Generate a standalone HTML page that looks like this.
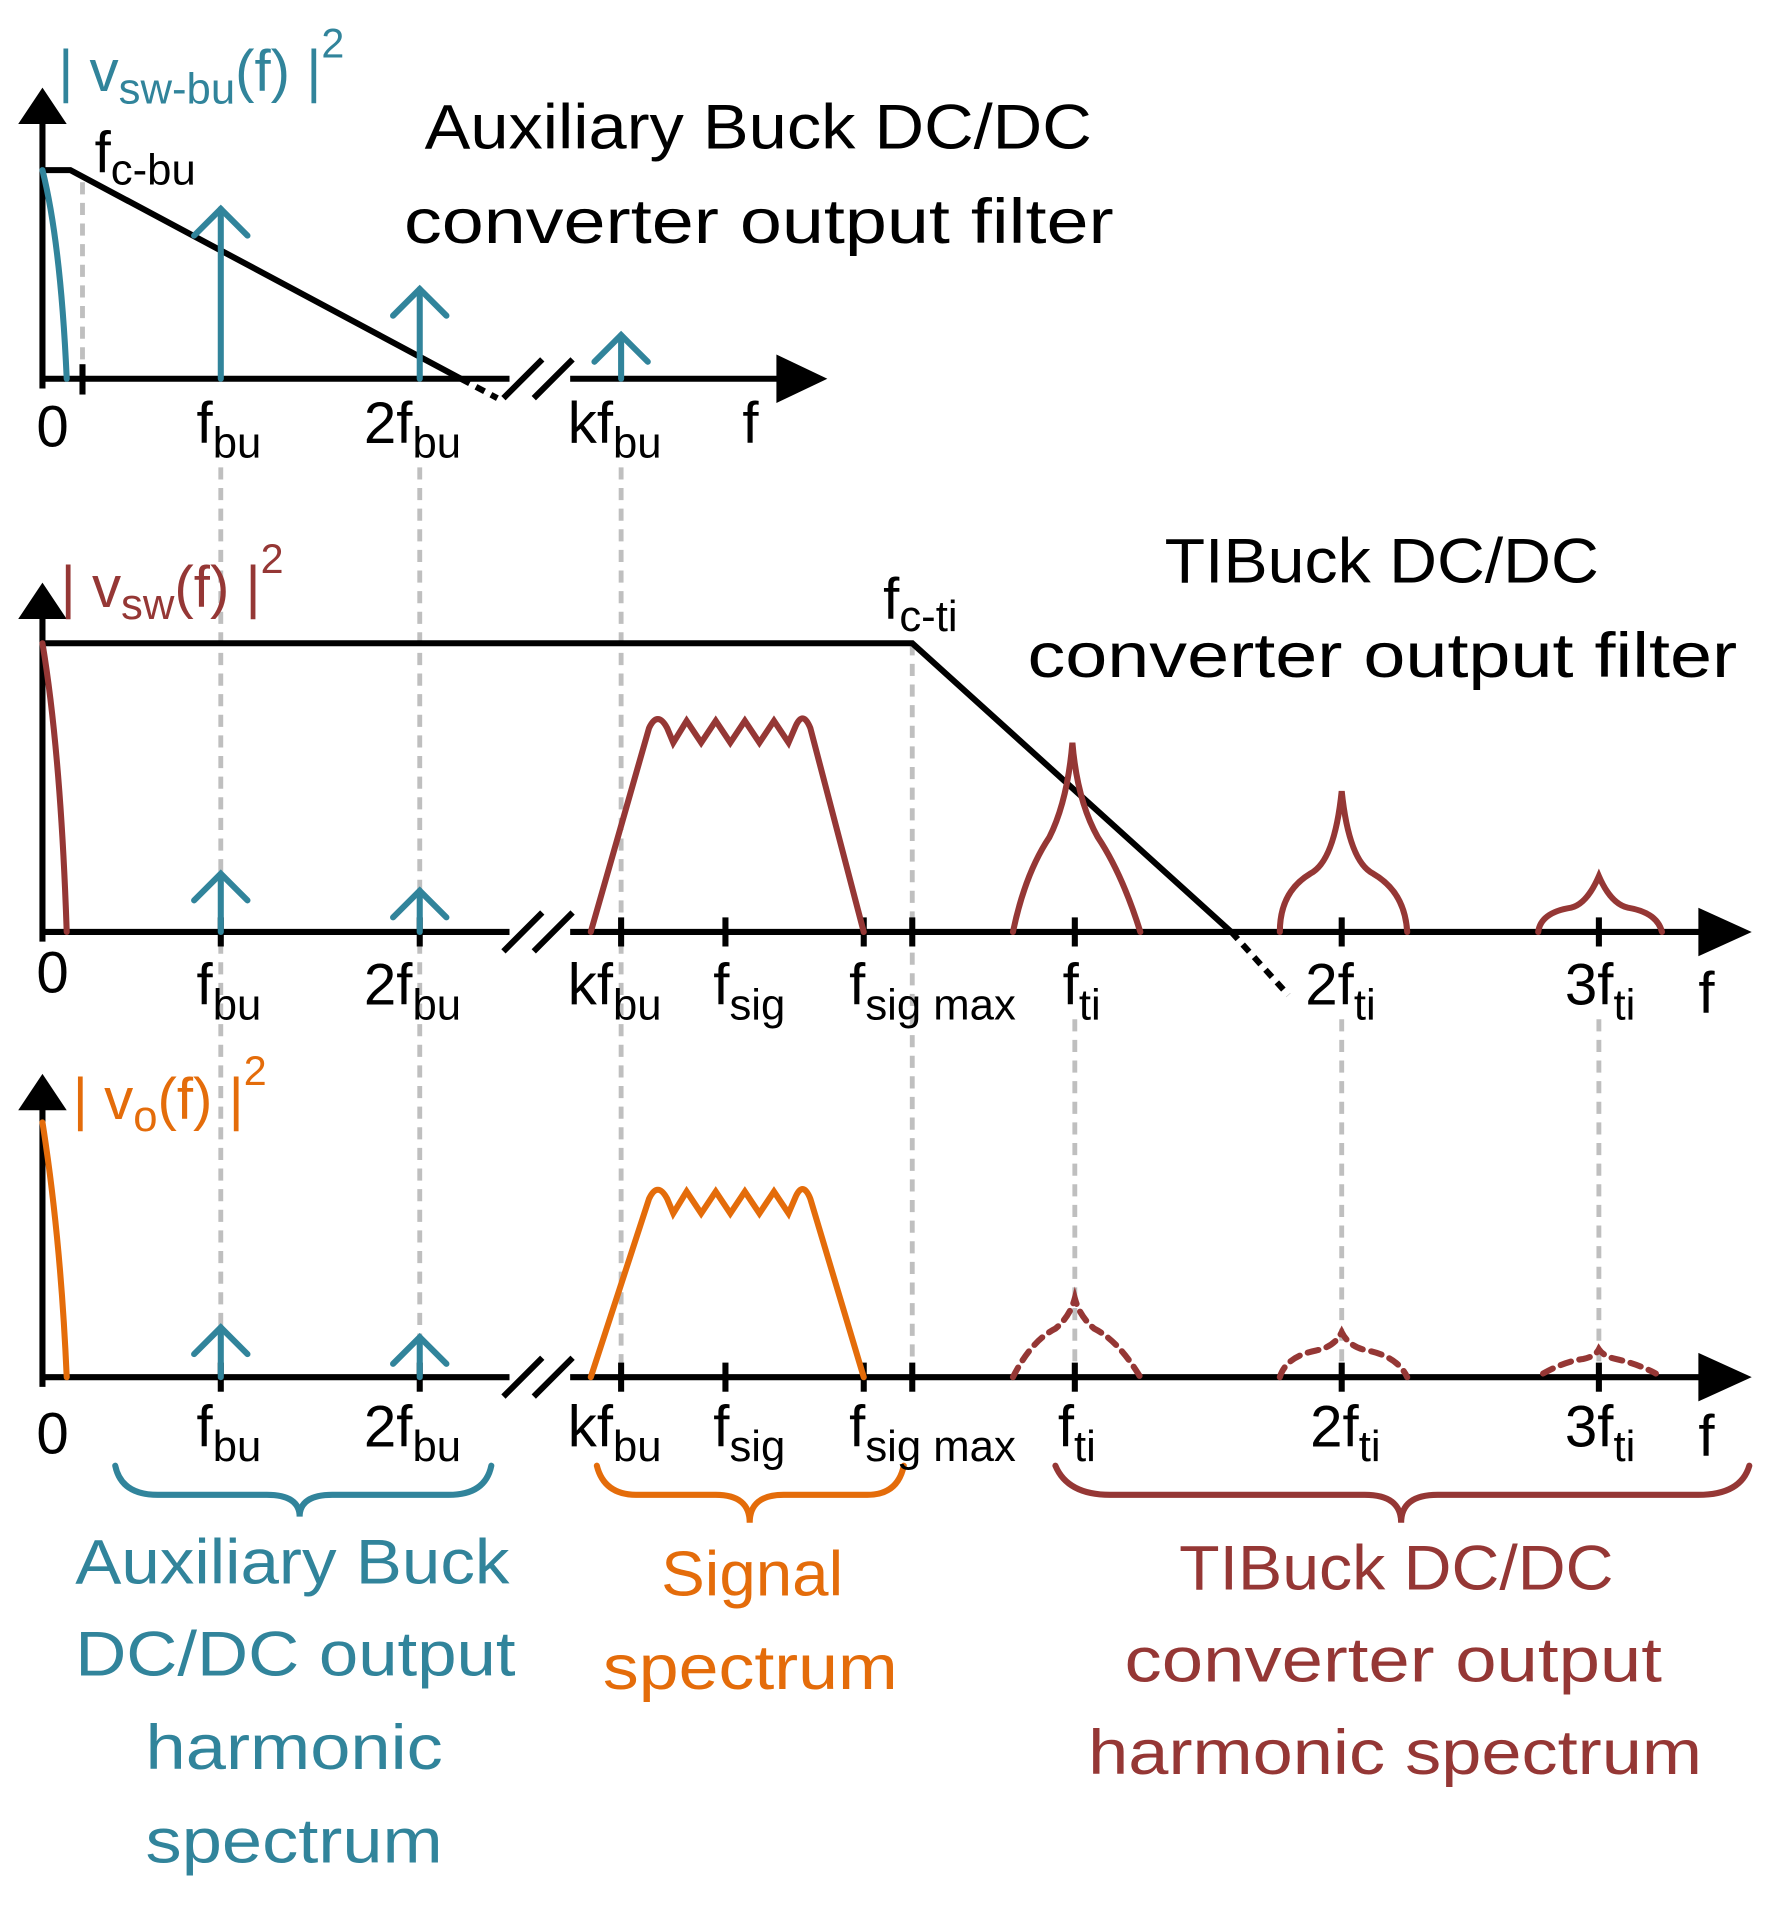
<!DOCTYPE html>
<html><head><meta charset="utf-8"><style>
html,body{margin:0;padding:0;background:#fff}
svg{display:block}
text{font-family:"Liberation Sans",sans-serif}
</style></head><body>
<svg width="1776" height="1910" viewBox="0 0 1464 1574" xmlns="http://www.w3.org/2000/svg">
<g stroke="#bfbfbf" stroke-width="4" stroke-dasharray="10,7" fill="none">
<line x1="68" y1="150" x2="68" y2="312"/>
<line x1="182" y1="385" x2="182" y2="1135"/>
<line x1="346" y1="385" x2="346" y2="1135"/>
<line x1="512" y1="385" x2="512" y2="1135"/>
<line x1="752" y1="530" x2="752" y2="1135"/>
<line x1="886" y1="840" x2="886" y2="1135"/>
<line x1="1106" y1="840" x2="1106" y2="1135"/>
<line x1="1318" y1="840" x2="1318" y2="1135"/>
</g>
<g stroke="#000" stroke-width="5" fill="none">
<line x1="35" y1="320" x2="35" y2="95"/>
<line x1="35" y1="312" x2="420" y2="312"/><line x1="470" y1="312" x2="650" y2="312"/>
<line x1="35" y1="776" x2="35" y2="505"/>
<line x1="35" y1="768" x2="420" y2="768"/><line x1="470" y1="768" x2="1410" y2="768"/>
<line x1="35" y1="1143" x2="35" y2="910"/>
<line x1="35" y1="1135" x2="420" y2="1135"/><line x1="470" y1="1135" x2="1410" y2="1135"/>
<path d="M415 328 L447 296 M440 328 L472 296"/>
<path d="M415 784 L447 752 M440 784 L472 752"/>
<path d="M415 1151 L447 1119 M440 1151 L472 1119"/>
<line x1="68" y1="300" x2="68" y2="325"/>
<g>
<line x1="512" y1="756" x2="512" y2="780"/><line x1="598" y1="756" x2="598" y2="780"/><line x1="712" y1="756" x2="712" y2="780"/><line x1="752" y1="756" x2="752" y2="780"/><line x1="886" y1="756" x2="886" y2="780"/><line x1="1106" y1="756" x2="1106" y2="780"/><line x1="1318" y1="756" x2="1318" y2="780"/><line x1="182" y1="756" x2="182" y2="780"/><line x1="346" y1="756" x2="346" y2="780"/>
<line x1="512" y1="1123" x2="512" y2="1147"/><line x1="598" y1="1123" x2="598" y2="1147"/><line x1="712" y1="1123" x2="712" y2="1147"/><line x1="752" y1="1123" x2="752" y2="1147"/><line x1="886" y1="1123" x2="886" y2="1147"/><line x1="1106" y1="1123" x2="1106" y2="1147"/><line x1="1318" y1="1123" x2="1318" y2="1147"/><line x1="182" y1="1123" x2="182" y2="1147"/><line x1="346" y1="1123" x2="346" y2="1147"/>
</g>
</g>
<g fill="#000">
<polygon points="35,72 15,102 55,102"/><polygon points="35,480 15,510 55,510"/><polygon points="35,885 15,915 55,915"/>
<polygon points="682,312 640,292 640,332"/><polygon points="1444,768 1400,748 1400,788"/><polygon points="1444,1135 1400,1115 1400,1155"/>
</g>
<g stroke="#000" stroke-width="5" fill="none">
<path d="M35 140 L58 140 L380 312"/>
<path d="M380 312 L410 328" stroke-dasharray="8,6"/>
<path d="M35 530 L752 530 L1015 768"/>
<path d="M1015 768 L1062 820" stroke-dasharray="8,6"/>
</g>
<g stroke="#31849b" stroke-width="5" fill="none" stroke-linecap="round">
<path d="M35 140 Q50 200 55 312"/>
<line x1="182" y1="312" x2="182" y2="172"/><path d="M160 194 L182 172 L204 194"/>
<line x1="346" y1="312" x2="346" y2="238"/><path d="M324 260 L346 238 L368 260"/>
<line x1="512" y1="312" x2="512" y2="276"/><path d="M490 298 L512 276 L534 298"/>
<line x1="182" y1="768" x2="182" y2="720"/><path d="M160 742 L182 720 L204 742"/>
<line x1="346" y1="768" x2="346" y2="734"/><path d="M324 756 L346 734 L368 756"/>
<line x1="182" y1="1135" x2="182" y2="1094"/><path d="M160 1116 L182 1094 L204 1116"/>
<line x1="346" y1="1135" x2="346" y2="1102"/><path d="M324 1124 L346 1102 L368 1124"/>
<path d="M95 1208 Q100 1232 130 1232 L220 1232 Q247 1232 247 1250 Q247 1232 274 1232 L370 1232 Q400 1232 405 1208"/>
</g>
<g stroke="#953735" stroke-width="5" fill="none" stroke-linecap="round">
<path d="M35 530 Q50 620 55 768"/>
<path d="M487 768 L535 600 Q542 585 550 600 L555 612 L566 594 L578 612 L590 594 L602 612 L614 594 L626 612 L638 594 L650 612 L656 598 Q662 585 668 600 L712 768"/>
<path d="M835 768 Q845 720 865 690 Q880 660 884 612 Q888 660 905 690 Q925 720 940 768"/>
<path d="M1055 768 Q1055 735 1080 720 Q1100 710 1106 652 Q1112 710 1132 720 Q1158 735 1160 768"/>
<path d="M1268 768 Q1270 752 1295 748 Q1308 745 1318 722 Q1328 745 1342 748 Q1366 752 1370 768"/>
<g stroke-dasharray="9,7">
<path d="M835 1135 Q850 1105 870 1095 Q882 1085 886 1070 Q890 1085 902 1095 Q922 1105 940 1135"/>
<path d="M1055 1135 Q1060 1118 1085 1113 Q1100 1110 1106 1098 Q1112 1110 1127 1113 Q1152 1118 1160 1135"/>
<path d="M1272 1132 Q1290 1122 1305 1120 Q1315 1118 1318 1112 Q1322 1118 1332 1120 Q1350 1124 1365 1132"/>
</g>
<path d="M870 1208 Q880 1232 915 1232 L1125 1232 Q1155 1232 1155 1255 Q1155 1232 1185 1232 L1400 1232 Q1435 1232 1442 1208"/>
</g>
<g stroke="#e46c0a" stroke-width="5" fill="none" stroke-linecap="round">
<path d="M35 925 Q50 1020 55 1135"/>
<path d="M487 1135 L535 988 Q542 973 550 988 L555 1000 L566 982 L578 1000 L590 982 L602 1000 L614 982 L626 1000 L638 982 L650 1000 L656 986 Q662 973 668 988 L712 1135"/>
<path d="M492 1208 Q498 1232 525 1232 L590 1232 Q618 1232 618 1255 Q618 1232 646 1232 L715 1232 Q740 1232 745 1208"/>
</g>
<g font-size="52" fill="#000" lengthAdjust="spacingAndGlyphs">
<text x="350" y="122" textLength="550" lengthAdjust="spacingAndGlyphs">Auxiliary Buck DC/DC</text>
<text x="333" y="200" textLength="585" lengthAdjust="spacingAndGlyphs">converter output filter</text>
<text x="960" y="480" textLength="358" lengthAdjust="spacingAndGlyphs">TIBuck DC/DC</text>
<text x="847" y="558" textLength="585" lengthAdjust="spacingAndGlyphs">converter output filter</text>
</g>
<g font-size="48" fill="#000">
<text x="78" y="142">f<tspan font-size="36" dy="10">c-bu</tspan></text>
<text x="728" y="510">f<tspan font-size="36" dy="10">c-ti</tspan></text>
<text x="30" y="368">0</text>
<text x="162" y="365">f<tspan font-size="36" dy="12">bu</tspan></text>
<text x="300" y="365">2f<tspan font-size="36" dy="12">bu</tspan></text>
<text x="468" y="365">kf<tspan font-size="36" dy="12">bu</tspan></text>
<text x="612" y="365">f</text>
<text x="30" y="818">0</text>
<text x="162" y="828">f<tspan font-size="36" dy="12">bu</tspan></text>
<text x="300" y="828">2f<tspan font-size="36" dy="12">bu</tspan></text>
<text x="468" y="828">kf<tspan font-size="36" dy="12">bu</tspan></text>
<text x="588" y="828">f<tspan font-size="36" dy="12">sig</tspan></text>
<text x="700" y="828">f<tspan font-size="36" dy="12">sig max</tspan></text>
<text x="876" y="828">f<tspan font-size="36" dy="12">ti</tspan></text>
<text x="1076" y="828">2f<tspan font-size="36" dy="12">ti</tspan></text>
<text x="1290" y="828">3f<tspan font-size="36" dy="12">ti</tspan></text>
<text x="1400" y="835">f</text>
<text x="30" y="1198">0</text>
<text x="162" y="1192">f<tspan font-size="36" dy="12">bu</tspan></text>
<text x="300" y="1192">2f<tspan font-size="36" dy="12">bu</tspan></text>
<text x="468" y="1192">kf<tspan font-size="36" dy="12">bu</tspan></text>
<text x="588" y="1192">f<tspan font-size="36" dy="12">sig</tspan></text>
<text x="700" y="1192">f<tspan font-size="36" dy="12">sig max</tspan></text>
<text x="872" y="1192">f<tspan font-size="36" dy="12">ti</tspan></text>
<text x="1080" y="1192">2f<tspan font-size="36" dy="12">ti</tspan></text>
<text x="1290" y="1192">3f<tspan font-size="36" dy="12">ti</tspan></text>
<text x="1400" y="1200">f</text>
</g>
<text x="48" y="75" font-size="48" fill="#31849b">| v<tspan font-size="36" dy="10">sw-bu</tspan><tspan dy="-10">(f) |</tspan><tspan font-size="34" dy="-28">2</tspan></text>
<text x="50" y="500" font-size="48" fill="#953735">| v<tspan font-size="36" dy="10">sw</tspan><tspan dy="-10">(f) |</tspan><tspan font-size="34" dy="-28">2</tspan></text>
<text x="60" y="922" font-size="48" fill="#e46c0a">| v<tspan font-size="36" dy="10">o</tspan><tspan dy="-10">(f) |</tspan><tspan font-size="34" dy="-28">2</tspan></text>
<g font-size="52" fill="#31849b">
<text x="62" y="1305" textLength="358" lengthAdjust="spacingAndGlyphs">Auxiliary Buck</text>
<text x="62" y="1381" textLength="363" lengthAdjust="spacingAndGlyphs">DC/DC output</text>
<text x="120" y="1458" textLength="245" lengthAdjust="spacingAndGlyphs">harmonic</text>
<text x="120" y="1535" textLength="245" lengthAdjust="spacingAndGlyphs">spectrum</text>
</g>
<g font-size="52" fill="#e46c0a">
<text x="545" y="1315" textLength="150" lengthAdjust="spacingAndGlyphs">Signal</text>
<text x="497" y="1392" textLength="243" lengthAdjust="spacingAndGlyphs">spectrum</text>
</g>
<g font-size="52" fill="#953735">
<text x="972" y="1310" textLength="358" lengthAdjust="spacingAndGlyphs">TIBuck DC/DC</text>
<text x="927" y="1386" textLength="443" lengthAdjust="spacingAndGlyphs">converter output</text>
<text x="897" y="1462" textLength="506" lengthAdjust="spacingAndGlyphs">harmonic spectrum</text>
</g>
</svg>
</body></html>
